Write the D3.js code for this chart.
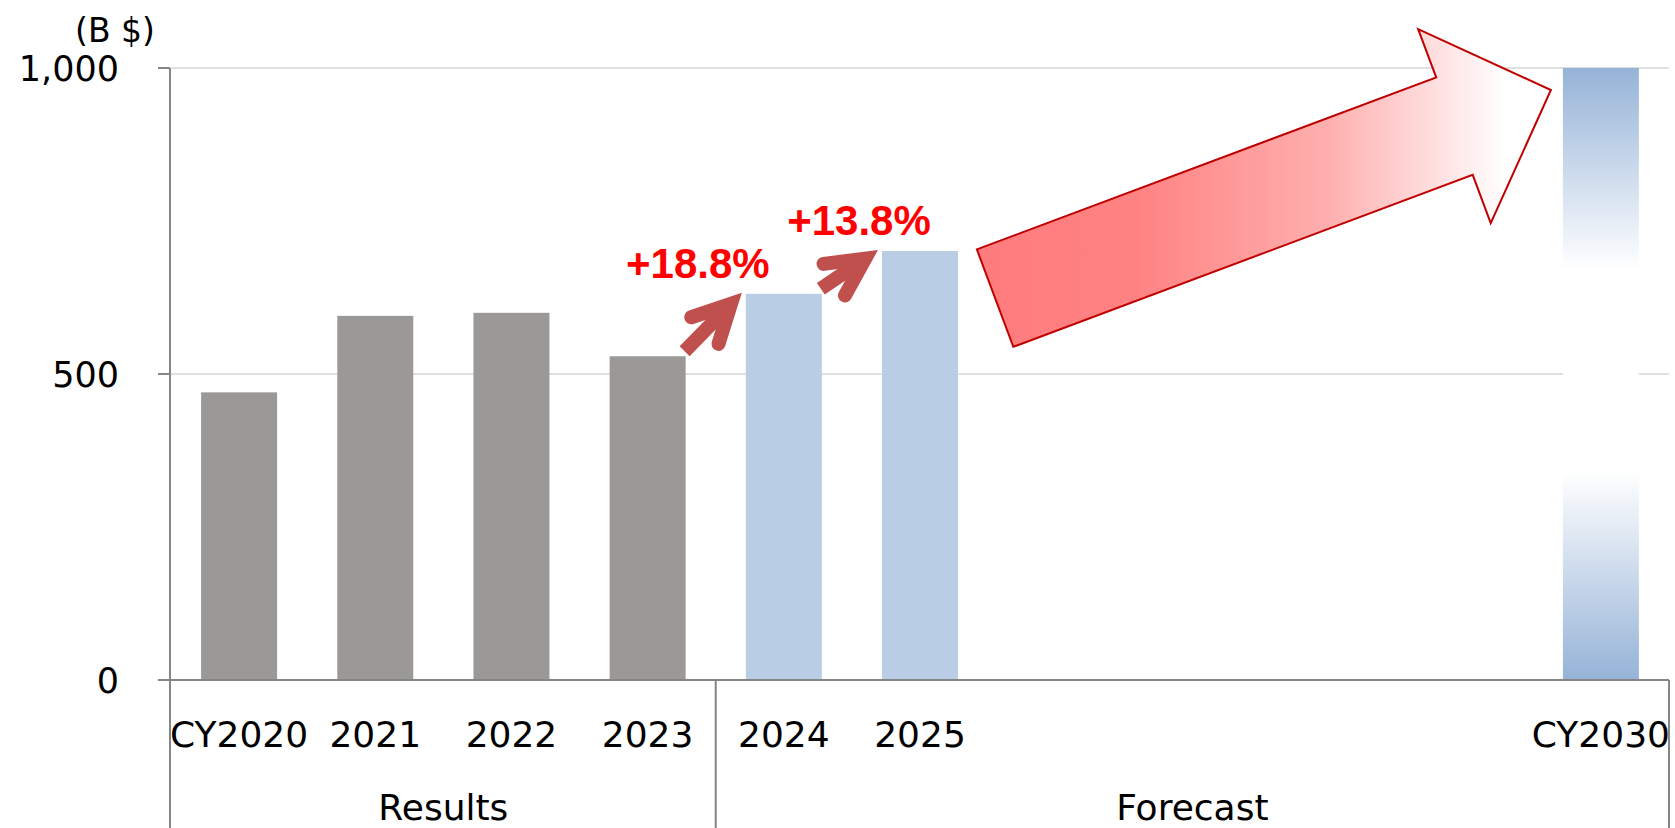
<!DOCTYPE html>
<html>
<head>
<meta charset="utf-8">
<script src="https://cdn.jsdelivr.net/npm/d3@7"></script>
<style>
  body { margin: 0; background: #fff; }
  svg { display: block; }
</style>
</head>
<body>
<div id="chart"></div>
<script>
// data
const years = ['2020', '2021', '2022', '2023', '2024', '2025', '2026', '2027', '2028', '2029', '2030'];
const yearLabels = ['CY2020', '2021', '2022', '2023', '2024', '2025', '', '', '', '', 'CY2030'];
const values = [470, 595, 600, 529, 631, 701, null, null, null, null, 1000];
const kinds = ['result', 'result', 'result', 'result', 'forecast', 'forecast', '', '', '', '', 'target'];
const groupNames = ['Results', 'Forecast'];
const groupFirst = ['2020', '2024'];
const groupLast = ['2023', '2030'];
const growthFrom = ['2023', '2024'];
const growthTo = ['2024', '2025'];
const growthLabels = ['+18.8%', '+13.8%'];
const yTicks = [0, 500, 1000];
const unitLabel = '(B $)';

const width = 1675;
const height = 828;
const margin = {top: 68, right: 6, bottom: 148, left: 171};
const plotW = width - margin.left - margin.right;
const plotH = height - margin.top - margin.bottom;

const svg = d3.select('#chart').append('svg')
  .attr('width', width)
  .attr('height', height);

const defs = svg.append('defs');

const x = d3.scaleBand()
  .domain(years)
  .range([margin.left, margin.left + plotW])
  .paddingInner(0.442)
  .paddingOuter(0.221);

const y = d3.scaleLinear()
  .domain([0, 1000])
  .range([margin.top + plotH, margin.top]);

const slotLeft = (d) => x(d) - x.step() * x.paddingInner() / 2;
const slotRight = (d) => slotLeft(d) + x.step();

const axisColor = '#858585';
const fontMain = 'DejaVu Sans, Verdana, sans-serif';

// gridlines
svg.append('g')
  .selectAll('line')
  .data(yTicks.filter((t) => t > 0))
  .enter().append('line')
  .attr('x1', margin.left)
  .attr('x2', margin.left + plotW)
  .attr('y1', (d) => y(d))
  .attr('y2', (d) => y(d))
  .style('stroke', '#e0e0e0')
  .style('stroke-width', 2);

// gradient for the 2030 bar
const barGrad = defs.append('linearGradient')
  .attr('id', 'targetGrad')
  .attr('x1', '0%').attr('y1', '0%')
  .attr('x2', '0%').attr('y2', '100%');
[[0, '#95b3d7'], [0.33, '#ffffff'], [0.66, '#ffffff'], [1, '#95b3d7']].forEach((s) => {
  barGrad.append('stop').attr('offset', s[0]).attr('stop-color', s[1]);
});

const fillFor = {result: '#9a9997', forecast: '#b9cde5', target: 'url(#targetGrad)'};

const barData = years.map((d, i) => ({year: d, value: values[i], kind: kinds[i]}))
  .filter((d) => d.value !== null);

svg.append('g')
  .selectAll('rect')
  .data(barData)
  .enter().append('rect')
  .attr('x', (d) => x(d.year))
  .attr('y', (d) => y(d.value))
  .attr('width', x.bandwidth())
  .attr('height', (d) => y(0) - y(d.value))
  .style('fill', (d) => fillFor[d.kind]);

// y axis
const axisG = svg.append('g');
axisG.append('line')
  .attr('x1', margin.left - 1).attr('x2', margin.left - 1)
  .attr('y1', y(1000)).attr('y2', height)
  .style('stroke', axisColor).style('stroke-width', 2);

axisG.selectAll('.ytick')
  .data(yTicks)
  .enter().append('line')
  .attr('class', 'ytick')
  .attr('x1', margin.left - 13).attr('x2', margin.left - 1)
  .attr('y1', (d) => y(d)).attr('y2', (d) => y(d))
  .style('stroke', axisColor).style('stroke-width', 2);

axisG.selectAll('.ylabel')
  .data(yTicks)
  .enter().append('text')
  .attr('class', 'ylabel')
  .attr('x', margin.left - 52)
  .attr('y', (d) => y(d) + 13)
  .attr('text-anchor', 'end')
  .style('font-family', fontMain)
  .style('font-size', '35px')
  .style('fill', '#000')
  .text((d) => d3.format(',')(d));

svg.append('text')
  .attr('x', 115)
  .attr('y', 42)
  .attr('text-anchor', 'middle')
  .style('font-family', fontMain)
  .style('font-size', '33px')
  .style('fill', '#000')
  .text(unitLabel);

// x axis
axisG.append('line')
  .attr('x1', margin.left - 13).attr('x2', margin.left + plotW)
  .attr('y1', y(0)).attr('y2', y(0))
  .style('stroke', axisColor).style('stroke-width', 2);

axisG.selectAll('.xlabel')
  .data(years)
  .enter().append('text')
  .attr('class', 'xlabel')
  .attr('x', (d) => x(d) + x.bandwidth() / 2)
  .attr('y', y(0) + 67)
  .attr('text-anchor', 'middle')
  .style('font-family', fontMain)
  .style('font-size', '36px')
  .style('fill', '#000')
  .text((d, i) => yearLabels[i]);

// group dividers and names
const dividers = [slotRight(groupLast[0]), slotRight(groupLast[1])];
axisG.selectAll('.divider')
  .data(dividers)
  .enter().append('line')
  .attr('class', 'divider')
  .attr('x1', (d) => d).attr('x2', (d) => d)
  .attr('y1', y(0)).attr('y2', height)
  .style('stroke', axisColor).style('stroke-width', 2);

axisG.selectAll('.group')
  .data(groupNames)
  .enter().append('text')
  .attr('class', 'group')
  .attr('x', (d, i) => (slotLeft(groupFirst[i]) + slotRight(groupLast[i])) / 2)
  .attr('y', y(0) + 140)
  .attr('text-anchor', 'middle')
  .style('font-family', fontMain)
  .style('font-size', '36px')
  .style('fill', '#000')
  .text((d) => d);

// growth arrows
const arrowColor = '#c0504d';
const valueOf = (yr) => values[years.indexOf(yr)];
const labelDx = [-44, -19];

growthFrom.forEach((from, i) => {
  const to = growthTo[i];
  const x0 = x(from) + x.bandwidth() - 1;
  const y0 = y(valueOf(from)) - 5;
  const x1 = x(to) - 4;
  const y1 = y(valueOf(to)) - 1;
  const len = Math.hypot(x1 - x0, y1 - y0);
  const ux = (x1 - x0) / len;
  const uy = (y1 - y0) / len;
  const w = 14;
  const half = 27 * Math.PI / 180;
  const inset = (w / 2) / Math.sin(half);
  const vx = x1 - ux * inset;
  const vy = y1 - uy * inset;
  const armLen = 42;
  const rot = (a) => [-(ux * Math.cos(a) - uy * Math.sin(a)), -(ux * Math.sin(a) + uy * Math.cos(a))];
  const a1 = rot(half);
  const a2 = rot(-half);

  svg.append('line')
    .attr('x1', x0).attr('y1', y0)
    .attr('x2', vx - ux * 4).attr('y2', vy - uy * 4)
    .style('stroke', arrowColor).style('stroke-width', w);

  svg.append('path')
    .attr('d', 'M' + (vx + a1[0] * armLen) + ',' + (vy + a1[1] * armLen) +
      'L' + vx + ',' + vy +
      'L' + (vx + a2[0] * armLen) + ',' + (vy + a2[1] * armLen))
    .style('fill', 'none')
    .style('stroke', arrowColor)
    .style('stroke-width', w)
    .style('stroke-linecap', 'round')
    .style('stroke-linejoin', 'miter');

  svg.append('text')
    .attr('x', x1 + labelDx[i])
    .attr('y', y1 - 15)
    .attr('text-anchor', 'middle')
    .style('font-family', 'Liberation Sans, Arial, sans-serif')
    .style('font-weight', 'bold')
    .style('font-size', '42px')
    .style('fill', '#ff0000')
    .text(growthLabels[i]);
});

// big block arrow towards 2030
const tailX = slotLeft('2026') + 7;
const tailY = y(624);
const tipX = x('2030') - 12;
const tipY = y(964);
const L = Math.hypot(tipX - tailX, tipY - tailY);
const ax = (tipX - tailX) / L;
const ay = (tipY - tailY) / L;
const nx = -ay;
const ny = ax;
const shaftHalf = 52;
const headHalf = 103.5;
const headLen = 103;
const local = [
  [0, -shaftHalf], [L - headLen, -shaftHalf], [L - headLen, -headHalf], [L, 0],
  [L - headLen, headHalf], [L - headLen, shaftHalf], [0, shaftHalf]
];
const pts = local.map((p) => [tailX + ax * p[0] + nx * p[1], tailY + ay * p[0] + ny * p[1]]);

const arrowGrad = defs.append('linearGradient')
  .attr('id', 'arrowGrad')
  .attr('gradientUnits', 'userSpaceOnUse')
  .attr('x1', tailX).attr('y1', 0)
  .attr('x2', tipX).attr('y2', 0);
[[0, '#ff7c7e'], [0.25, '#ff8282'], [0.6, '#ffafaf'], [0.92, '#ffffff'], [1, '#ffffff']].forEach((s) => {
  arrowGrad.append('stop').attr('offset', s[0]).attr('stop-color', s[1]);
});

svg.append('path')
  .attr('d', d3.line()(pts) + 'Z')
  .style('fill', 'url(#arrowGrad)')
  .style('stroke', '#c00000')
  .style('stroke-width', 2);
</script>
</body>
</html>
